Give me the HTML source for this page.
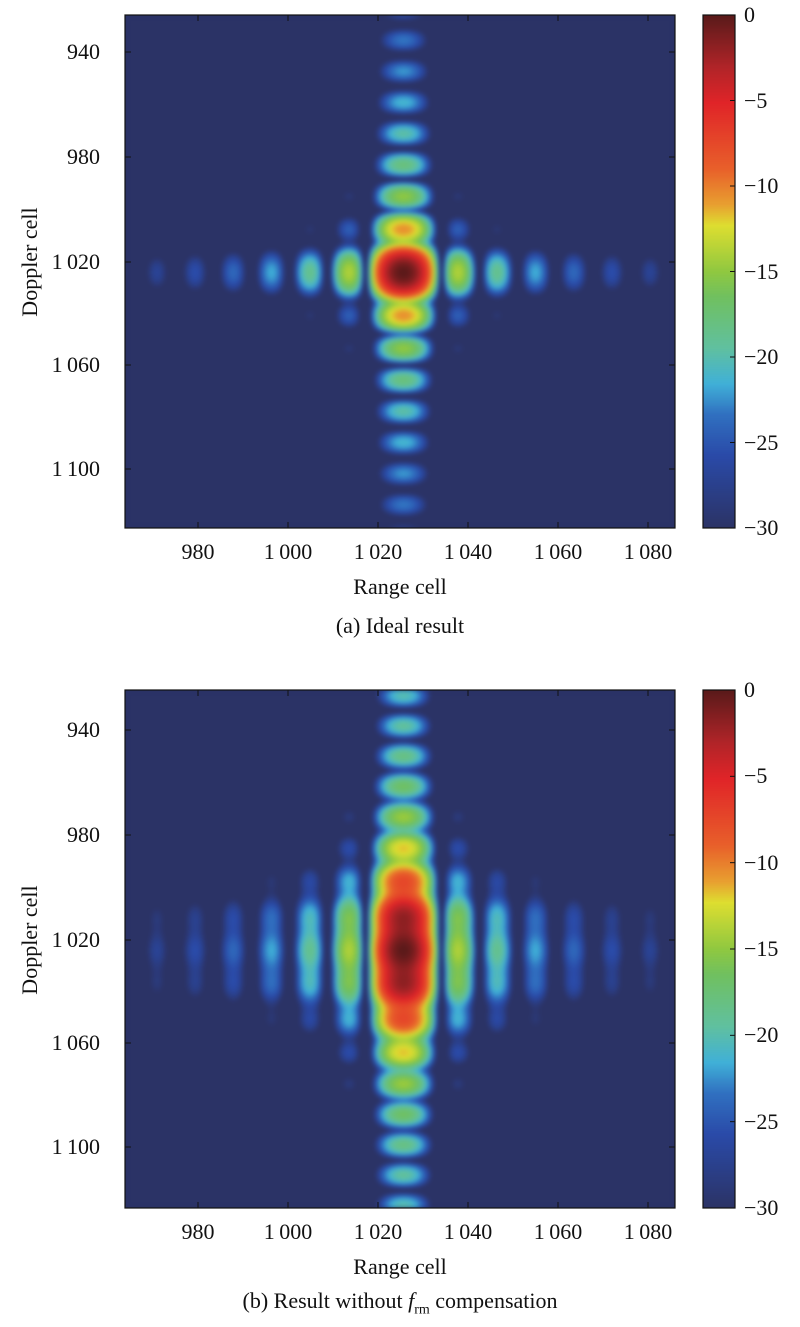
<!DOCTYPE html>
<html><head><meta charset="utf-8"><style>
body{margin:0;background:#fff;width:800px;height:1327px;position:relative;overflow:hidden;font-family:"Liberation Serif",serif;color:#111}
canvas{position:absolute}
.t{position:absolute;font-size:22px;white-space:nowrap;line-height:1}
.yl{text-align:right;width:80px}
.xl{text-align:center;width:100px}
.cl{left:744px}
</style></head><body>
<canvas id="c1" style="left:125px;top:15px" width="550" height="513"></canvas>
<canvas id="cb1" style="left:703px;top:15px" width="32" height="513"></canvas>
<canvas id="c2" style="left:125px;top:690px" width="550" height="518"></canvas>
<canvas id="cb2" style="left:703px;top:690px" width="32" height="518"></canvas>
<svg width="800" height="1327" style="position:absolute;left:0;top:0">
<g fill="none" stroke="#111" stroke-width="1.2">
<rect x="125" y="15" width="550" height="513"/>
<rect x="703" y="15" width="32" height="513"/>
<rect x="125" y="690" width="550" height="518"/>
<rect x="703" y="690" width="32" height="518"/>
</g>
<g stroke="#111" stroke-width="1" id="ticks"></g>
</svg>
<div id="txt"></div>
<script>
var stops=[[0,[90,26,26]],[0.1,[176,36,40]],[0.17,[224,36,40]],[0.3,[232,96,42]],[0.37,[232,160,48]],[0.41,[222,222,48]],[0.5,[144,200,64]],[0.55,[112,192,96]],[0.65,[96,192,160]],[0.72,[64,176,216]],[0.78,[48,112,192]],[0.86,[42,74,168]],[1,[43,51,102]]];
function cmap(f){f=Math.max(0,Math.min(1,f));for(var i=1;i<stops.length;i++){if(f<=stops[i][0]){var a=stops[i-1],b=stops[i],t=(f-a[0])/(b[0]-a[0]);return [0,1,2].map(k=>a[1][k]+(b[1][k]-a[1][k])*t);}}return stops[stops.length-1][1];}
function prof(len,c,s,beta){var N=32,out=new Float64Array(len),mx=0;for(var p=0;p<len;p++){var t=(p-c)/s,re=0,im=0;for(var n=0;n<N;n++){var q=(n-(N-1)/2)/(N/2);var ph=2*Math.PI*n*t/N+beta*q*q;re+=Math.cos(ph);im+=Math.sin(ph);}out[p]=re*re+im*im;if(out[p]>mx)mx=out[p];}for(p=0;p<len;p++)out[p]/=mx;return out;}
function draw(id,w,h,cx,cy,sx,sy,beta){var off=document.createElement('canvas');off.width=w;off.height=h;var o=off.getContext('2d'),img=o.createImageData(w,h);var ph=prof(w,cx,sx,0),pv=prof(h,cy,sy,beta);for(var y=0;y<h;y++)for(var x=0;x<w;x++){var db=10*Math.log10(ph[x]+1e-9)*1.05+10*Math.log10(pv[y]+1e-9)*0.88;if(db<-30)db=-30;var col=cmap(-db/30);var i=(y*w+x)*4;img.data[i]=col[0];img.data[i+1]=col[1];img.data[i+2]=col[2];img.data[i+3]=255;}o.putImageData(img,0,0);var ctx=document.getElementById(id).getContext('2d');ctx.fillStyle='rgb(43,51,102)';ctx.fillRect(0,0,w,h);ctx.filter='blur(2px)';ctx.drawImage(off,0,0);}
function cbar(id,h){var ctx=document.getElementById(id).getContext('2d');for(var y=0;y<h;y++){var c=cmap(y/(h-1));ctx.fillStyle='rgb('+c.map(Math.round).join(',')+')';ctx.fillRect(0,y,32,1);}}
draw('c1',550,513,278,257,38,31,0.8);
draw('c2',550,518,278,260,38,30,3.2);
cbar('cb1',513);cbar('cb2',518);
var txt='',tk='';
function add(cls,x,y,s,extra){txt+='<div class="t '+cls+'" style="left:'+x+'px;top:'+y+'px;'+(extra||'')+'">'+s+'</div>';}
function panel(top,bot,ycen,yt,cap){
 var yticks=[[940,-210],[980,-105],[1020,0],[1060,103],[1100,207]];
 yticks.forEach(function(t){var y=ycen+t[1];add('yl',20,y-11,t[0]>=1000?('1&#8201;'+String(t[0]).slice(1)):t[0]);tk+='<line x1="125" y1="'+y+'" x2="131" y2="'+y+'"/><line x1="675" y1="'+y+'" x2="669" y2="'+y+'"/>';});
 [980,1000,1020,1040,1060,1080].forEach(function(v){var x=198+(v-980)*4.5;add('xl',x-50,bot+13,v>=1000?('1&#8201;'+String(v).slice(1)):v);tk+='<line x1="'+x+'" y1="'+bot+'" x2="'+x+'" y2="'+(bot-6)+'"/><line x1="'+x+'" y1="'+top+'" x2="'+x+'" y2="'+(top+6)+'"/>';});
 for(var k=0;k<=6;k++){var y=top+(bot-top)*k/6;add('cl',744,y-11,k==0?'0':'&minus;'+(k*5));tk+='<line x1="735" y1="'+y+'" x2="730" y2="'+y+'"/>';}
 add('',340,bot+48,'Range cell','width:120px;text-align:center');
 txt+='<div class="t" style="left:-30px;top:'+(ycen-11)+'px;width:120px;text-align:center;transform:rotate(-90deg)">Doppler cell</div>';
 add('',150,yt,cap,'width:500px;text-align:center');
}
panel(15,528,262,615,'(a) Ideal result');
panel(690,1208,940,1290,'(b) Result without <i>f</i><sub style="font-size:14px">rm</sub> compensation');
document.getElementById('txt').innerHTML=txt;
document.getElementById('ticks').innerHTML=tk;
</script>
</body></html>
